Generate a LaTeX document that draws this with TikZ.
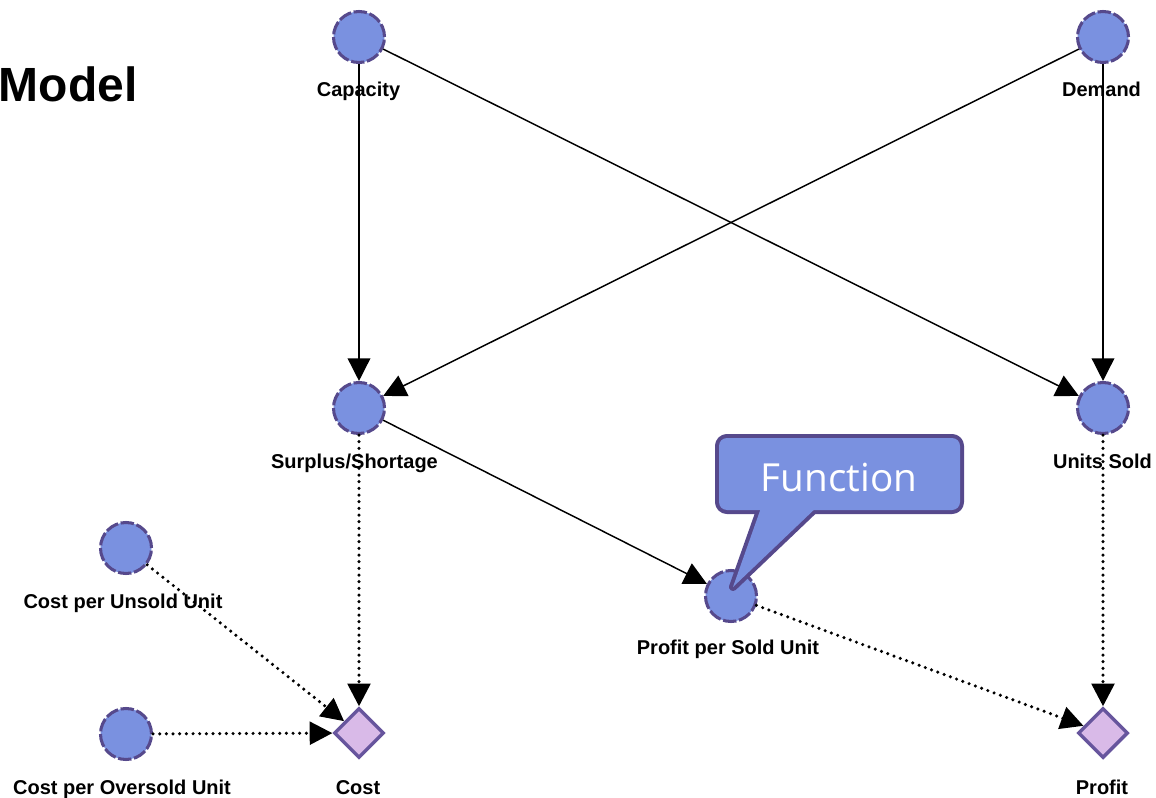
\documentclass[tikz,border=0pt]{standalone}
\usepackage{fontspec}
\setmainfont{Liberation Sans}
\newfontfamily\calloutfont{Open Sans}
\usetikzlibrary{arrows.meta,shapes.geometric}
\definecolor{nodefill}{HTML}{7A91E0}
\definecolor{nodeline}{HTML}{56498C}
\definecolor{decfill}{HTML}{D9BAE8}
\definecolor{decline}{HTML}{67559D}
\begin{document}
\begin{tikzpicture}[x=0.75pt,y=-0.75pt,
  chance/.style={circle, minimum size=38.25pt, inner sep=0pt, fill=nodefill,
    draw=nodeline, line width=2.3pt, dash pattern=on 10pt off 2pt},
  objective/.style={diamond, aspect=1, minimum size=37.5pt, inner sep=0pt,
    fill=decfill, draw=decline, line width=2.6pt},
  lbl/.style={font=\bfseries\fontsize{15}{18}\selectfont, anchor=base, inner sep=0pt},
  link/.style={-{Triangle[length=17pt,width=17pt]}, line width=1.1pt},
  dotlink/.style={link, line width=2.6pt, line cap=round, dash pattern=on 0pt off 5pt},
  rim/.style={draw=nodeline, line width=6pt, line join=round},
]
\useasboundingbox (0,0) rectangle (1156,798);

% title
\node[font=\bfseries\fontsize{36}{40}\selectfont, anchor=base west, inner sep=0pt]
  (title) at (-1.5,101.5) {Model};

% uncertain quantities
\node[chance] (cap) at (359,37) {};
\node[chance] (dem) at (1103,37) {};
\node[chance] (sur) at (359,408) {};
\node[chance] (uns) at (1103,408) {};
\node[chance] (pps) at (731,596) {};
\node[chance] (cpu) at (126,548) {};
\node[chance] (cpo) at (126,734) {};
% objectives
\node[objective] (cost) at (359,733) {};
\node[objective] (prof) at (1103,733) {};

% labels
\node[lbl] (cap-l) at (358.5,96.5) {Capacity};
\node[lbl] (dem-l) at (1101.5,96.5) {Demand};
\node[lbl] (sur-l) at (354.5,468) {Surplus/Shortage};
\node[lbl] (uns-l) at (1102.5,468) {Units Sold};
\node[lbl] (pps-l) at (728,654.5) {Profit per Sold Unit};
\node[lbl] (cpu-l) at (123,608) {Cost per Unsold Unit};
\node[lbl] (cpo-l) at (122,794) {Cost per Oversold Unit};
\node[lbl] (cost-l) at (358,794) {Cost};
\node[lbl] (prof-l) at (1102,794) {Profit};

% influences
\draw[link] (cap) -- (sur);
\draw[link] (cap) -- (uns);
\draw[link] (dem) -- (sur);
\draw[link] (dem) -- (uns);
\draw[link] (sur) -- (pps);
\draw[dotlink] (sur) -- (cost);
\draw[dotlink] (uns) -- (prof);
\draw[dotlink] (pps) -- (prof);
\draw[dotlink] (cpu) -- (cost);
\draw[dotlink] (cpo) -- (cost);

% speech bubble: thick rim first, then the fill covers its inner half
\coordinate (fntip) at (733,587);
\path[rim, rounded corners=6pt] (719,438) rectangle (960,510);
\path[rim] (762,505) -- (fntip) -- (819,505) -- cycle;
\fill[nodefill, rounded corners=6pt] (719,438) rectangle (960,510);
\fill[nodefill] (762,505) -- (fntip) -- (819,505) -- cycle;
\node[font=\calloutfont\fontsize{29}{34}\selectfont, text=white, anchor=base, inner sep=0pt]
  (fn) at (839,491) {Function};
\end{tikzpicture}
\end{document}
